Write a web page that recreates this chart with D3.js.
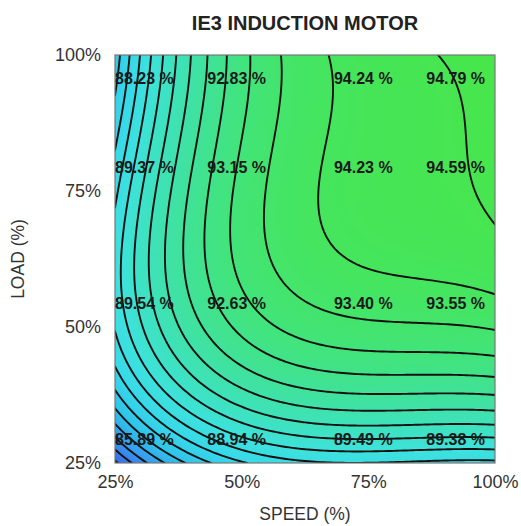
<!DOCTYPE html>
<html>
<head>
<meta charset="utf-8">
<script src="https://cdn.jsdelivr.net/npm/d3@7"></script>
<style>
  body { margin: 0; background: #fff; }
  text { font-family: "Liberation Sans", Arial, Helvetica, sans-serif; }
</style>
</head>
<body>
<div id="chart"></div>
<script>
// measured efficiency (%) at each speed / load point
const speeds = [25, 50, 75, 100];
const loads = [25, 50, 75, 100];
// rows follow loads (25 -> 100), columns follow speeds
const efficiency = [
  [85.89, 88.94, 89.49, 89.38],
  [89.54, 92.63, 93.40, 93.55],
  [89.37, 93.15, 94.23, 94.59],
  [88.23, 92.83, 94.24, 94.79]
];
const speedTicks = [25, 50, 75, 100];
const loadTicks = [25, 50, 75, 100];
const contourLevels = d3.range(86, 94.75, 0.5);

const W = 521, H = 526;
const margin = { top: 55, right: 26, bottom: 63, left: 115 };
const width = W - margin.left - margin.right,
  height = H - margin.top - margin.bottom;

const x = d3.scaleLinear().domain([25, 100]).range([0, width]);
const y = d3.scaleLinear().domain([25, 100]).range([height, 0]);

const color = d3.scaleLinear()
  .domain([85.9, 87, 88, 89, 90, 91, 92, 93, 94, 94.8])
  .range(["#3d64e6", "#3a96ee", "#31c2ea", "#38d8ea", "#3ee2dc", "#3ee2bc",
          "#40e29a", "#42e47a", "#45e55e", "#48e648"])
  .clamp(true);

// smooth field through the measured points (cubic in each direction)
function weights(xs, v) {
  return xs.map((xi, i) => {
    let w = 1;
    xs.forEach((xj, j) => { if (j !== i) w *= (v - xj) / (xi - xj); });
    return w;
  });
}
const n = 121;
const gs = d3.scaleLinear().domain([0.5, n - 0.5]).range([25, 100]);
const grid = new Array(n * n);
for (let j = 0; j < n; j++) {
  const wl = weights(loads, gs(j + 0.5));
  for (let i = 0; i < n; i++) {
    const ws = weights(speeds, gs(i + 0.5));
    let v = 0;
    for (let a = 0; a < 4; a++)
      for (let b = 0; b < 4; b++) v += wl[a] * ws[b] * efficiency[a][b];
    grid[j * n + i] = v;
  }
}

const path = d3.geoPath(d3.geoTransform({
  point: function (px, py) { this.stream.point(x(gs(px)), y(gs(py))); }
}));

const svg = d3.select("#chart").append("svg")
  .attr("width", W).attr("height", H);

svg.append("defs").append("clipPath").attr("id", "clip")
  .append("rect").attr("width", width).attr("height", height);

const g = svg.append("g")
  .attr("transform", "translate(" + margin.left + "," + margin.top + ")");

const plot = g.append("g").attr("clip-path", "url(#clip)");

// colour fill: many thin bands
const bandStep = 0.04;
const bands = d3.contours().size([n, n])
  .thresholds(d3.range(85.7, 94.9, bandStep))(grid);
plot.selectAll(".band")
  .data(bands)
  .enter()
  .append("path")
  .attr("class", "band")
  .attr("d", path)
  .attr("fill", (d) => color(d.value + bandStep / 2))
  .attr("stroke", (d) => color(d.value + bandStep / 2))
  .attr("stroke-width", 0.6);

// contour lines
const lines = d3.contours().size([n, n]).thresholds(contourLevels)(grid);
plot.selectAll(".iso")
  .data(lines)
  .enter()
  .append("path")
  .attr("class", "iso")
  .attr("d", path)
  .attr("fill", "none")
  .attr("stroke", "#111")
  .attr("stroke-width", 1.9)
  .attr("stroke-linejoin", "round");

g.append("rect")
  .attr("width", width).attr("height", height)
  .attr("fill", "none").attr("stroke", "#777").attr("stroke-width", 1.2);

// value labels
const cells = [];
efficiency.forEach((row, r) => row.forEach((v, c) => cells.push({ r, c, v })));
g.selectAll(".val")
  .data(cells)
  .enter()
  .append("text")
  .attr("class", "val")
  .attr("x", (d) => x(speeds[d.c]) + (d.c === 0 ? 0 : d.c === speeds.length - 1 ? -10 : -5))
  .attr("y", (d) => y(loads[d.r]) + (d.r === loads.length - 1 ? 23 : -24))
  .attr("dy", "0.36em")
  .attr("text-anchor", (d) => d.c === 0 ? "start" : d.c === speeds.length - 1 ? "end" : "middle")
  .attr("font-size", 16)
  .attr("font-weight", "bold")
  .attr("fill", "#1a1a1a")
  .text((d) => d.v.toFixed(2) + " %");

// axes
const xAxis = g.append("g")
  .attr("transform", "translate(0," + height + ")")
  .call(d3.axisBottom(x).tickValues(speedTicks).tickFormat((d) => d + "%").tickSize(0).tickPadding(12));
const yAxis = g.append("g")
  .call(d3.axisLeft(y).tickValues(loadTicks).tickFormat((d) => d + "%").tickSize(0).tickPadding(14));
[xAxis, yAxis].forEach((a) => {
  a.select(".domain").remove();
  a.selectAll("text")
    .attr("font-size", 18)
    .attr("font-family", "'Liberation Sans', Arial, sans-serif")
    .attr("fill", "#333");
});

svg.append("text")
  .attr("x", margin.left + width / 2).attr("y", 30)
  .attr("text-anchor", "middle")
  .attr("font-size", 20).attr("font-weight", "bold").attr("fill", "#222")
  .text("IE3 INDUCTION MOTOR");

svg.append("text")
  .attr("x", margin.left + width / 2).attr("y", 520)
  .attr("text-anchor", "middle")
  .attr("font-size", 17.5).attr("fill", "#333")
  .text("SPEED (%)");

svg.append("text")
  .attr("transform", "translate(24," + (margin.top + height / 2) + ") rotate(-90)")
  .attr("text-anchor", "middle")
  .attr("font-size", 17.5).attr("fill", "#333")
  .text("LOAD (%)");
</script>
</body>
</html>
